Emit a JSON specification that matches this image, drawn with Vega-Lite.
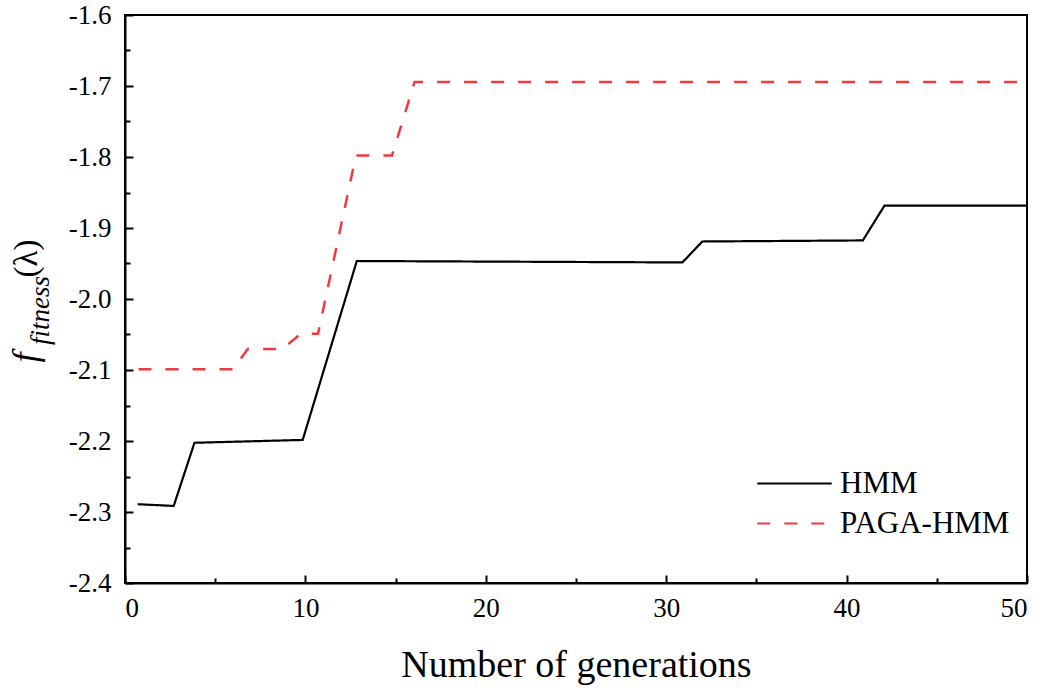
{
  "$schema": "https://vega.github.io/schema/vega-lite/v6.json",
  "width": 902,
  "height": 568,
  "autosize": {"type": "none"},
  "padding": {"left": 125, "top": 15, "right": 21, "bottom": 110},
  "background": "white",
  "config": {
    "font": "Liberation Serif",
    "view": {"stroke": "black", "strokeWidth": 2},
    "axis": {
      "grid": false,
      "domainColor": "black",
      "domainWidth": 2,
      "tickColor": "black",
      "tickWidth": 2,
      "labelFont": "Liberation Serif",
      "labelFontSize": 27,
      "labelColor": "black",
      "titleFont": "Liberation Serif",
      "titleColor": "black",
      "titleFontWeight": "normal"
    },
    "legend": {
      "labelFont": "Liberation Serif",
      "labelFontSize": 31,
      "labelColor": "black",
      "labelLimit": 0
    }
  },
  "data": {
    "values": [
      {"series": "HMM", "generation": 0.7, "fitness": -2.289},
      {"series": "HMM", "generation": 2.7, "fitness": -2.2915},
      {"series": "HMM", "generation": 3.85, "fitness": -2.2025},
      {"series": "HMM", "generation": 9.85, "fitness": -2.1985},
      {"series": "HMM", "generation": 12.85, "fitness": -1.9465},
      {"series": "HMM", "generation": 30.9, "fitness": -1.9485},
      {"series": "HMM", "generation": 32.0, "fitness": -1.919},
      {"series": "HMM", "generation": 40.9, "fitness": -1.9175},
      {"series": "HMM", "generation": 42.1, "fitness": -1.8685},
      {"series": "HMM", "generation": 50, "fitness": -1.8685},
      {"series": "PAGA-HMM", "generation": 0.75, "fitness": -2.099},
      {"series": "PAGA-HMM", "generation": 6.0, "fitness": -2.099},
      {"series": "PAGA-HMM", "generation": 6.8, "fitness": -2.0705},
      {"series": "PAGA-HMM", "generation": 8.7, "fitness": -2.0705},
      {"series": "PAGA-HMM", "generation": 9.75, "fitness": -2.049},
      {"series": "PAGA-HMM", "generation": 10.7, "fitness": -2.049},
      {"series": "PAGA-HMM", "generation": 12.8, "fitness": -1.798},
      {"series": "PAGA-HMM", "generation": 14.8, "fitness": -1.798},
      {"series": "PAGA-HMM", "generation": 16.05, "fitness": -1.6945},
      {"series": "PAGA-HMM", "generation": 50, "fitness": -1.6945}
    ]
  },
  "resolve": {"axis": {"x": "independent", "y": "independent"}},
  "layer": [
    {
      "transform": [{"filter": "datum.series == 'HMM'"}],
      "mark": {"type": "line", "strokeWidth": 2.2},
      "encoding": {
        "x": {
          "field": "generation",
          "type": "quantitative",
          "scale": {"domain": [0, 50], "nice": false},
          "axis": {
            "orient": "bottom",
            "values": [0, 5, 10, 15, 20, 25, 30, 35, 40, 45, 50],
            "labelExpr": "datum.value % 10 == 0 ? datum.label : ''",
            "tickSize": {"condition": {"test": "datum.value % 10 == 0", "value": -8}, "value": -5},
            "labelPadding": 20,
            "title": "Number of generations",
            "titleFontSize": 38,
            "titleY": 93,
            "titleBaseline": "alphabetic"
          }
        },
        "y": {
          "field": "fitness",
          "type": "quantitative",
          "scale": {"domain": [-2.4, -1.6], "nice": false, "zero": false},
          "axis": {
            "values": [-2.4, -2.35, -2.3, -2.25, -2.2, -2.15, -2.1, -2.05, -2.0, -1.95, -1.9, -1.85, -1.8, -1.75, -1.7, -1.65, -1.6],
            "format": ".1f",
            "labelExpr": "abs(datum.value * 10 - round(datum.value * 10)) < 0.001 ? replace(datum.label, '\u2212', '-') : ''",
            "tickSize": {"condition": {"test": "abs(datum.value * 10 - round(datum.value * 10)) < 0.001", "value": -8}, "value": -5},
            "labelPadding": 22,
            "title": "f",
            "titleFontStyle": "italic",
            "titleFontSize": 36,
            "titleAngle": 270,
            "titleAlign": "center",
            "titleBaseline": "alphabetic",
            "titleX": -89,
            "titleY": 342
          }
        },
        "color": {
          "field": "series",
          "type": "nominal",
          "scale": {"domain": ["HMM", "PAGA-HMM"], "range": ["black", "#ef3b3e"]},
          "legend": {
            "title": null,
            "orient": "none",
            "legendX": 654,
            "legendY": 453,
            "padding": 0,
            "symbolType": "M-3.1,0H3.1",
            "symbolSize": 576,
            "symbolStrokeWidth": 2,
            "labelOffset": 30,
            "labelLimit": 0,
            "rowPadding": 8
          }
        },
        "strokeDash": {
          "field": "series",
          "type": "nominal",
          "scale": {"domain": ["HMM", "PAGA-HMM"], "range": [[1, 0], [13, 14]]},
          "legend": {
            "title": null,
            "orient": "none",
            "legendX": 654,
            "legendY": 453,
            "padding": 0,
            "symbolType": "M-3.1,0H3.1",
            "symbolSize": 576,
            "symbolStrokeWidth": 2,
            "labelOffset": 30,
            "labelLimit": 0,
            "rowPadding": 8
          }
        }
      }
    },
    {
      "transform": [{"filter": "datum.series == 'PAGA-HMM'"}],
      "mark": {"type": "line", "strokeWidth": 2.5},
      "encoding": {
        "x": {
          "field": "generation",
          "type": "quantitative",
          "scale": {"domain": [0, 50], "nice": false},
          "axis": {
            "orient": "top",
            "domain": false,
            "ticks": false,
            "labels": false,
            "title": "(λ)",
            "titleFontSize": 33,
            "titleAngle": 270,
            "titleAlign": "center",
            "titleBaseline": "alphabetic",
            "titleX": -89,
            "titleY": 243
          }
        },
        "y": {
          "field": "fitness",
          "type": "quantitative",
          "scale": {"domain": [-2.4, -1.6], "nice": false, "zero": false},
          "axis": {
            "orient": "right",
            "domain": false,
            "ticks": false,
            "labels": false,
            "title": "fitness",
            "titleFontStyle": "italic",
            "titleFontSize": 27,
            "titleAngle": 270,
            "titleAlign": "center",
            "titleBaseline": "alphabetic",
            "titleX": -979,
            "titleY": 295
          }
        },
        "color": {
          "field": "series",
          "type": "nominal",
          "scale": {"domain": ["HMM", "PAGA-HMM"], "range": ["black", "#ef3b3e"]},
          "legend": {
            "title": null,
            "orient": "none",
            "legendX": 654,
            "legendY": 453,
            "padding": 0,
            "symbolType": "M-3.1,0H3.1",
            "symbolSize": 576,
            "symbolStrokeWidth": 2,
            "labelOffset": 30,
            "labelLimit": 0,
            "rowPadding": 8
          }
        },
        "strokeDash": {
          "field": "series",
          "type": "nominal",
          "scale": {"domain": ["HMM", "PAGA-HMM"], "range": [[1, 0], [13, 14]]},
          "legend": {
            "title": null,
            "orient": "none",
            "legendX": 654,
            "legendY": 453,
            "padding": 0,
            "symbolType": "M-3.1,0H3.1",
            "symbolSize": 576,
            "symbolStrokeWidth": 2,
            "labelOffset": 30,
            "labelLimit": 0,
            "rowPadding": 8
          }
        }
      }
    }
  ]
}
